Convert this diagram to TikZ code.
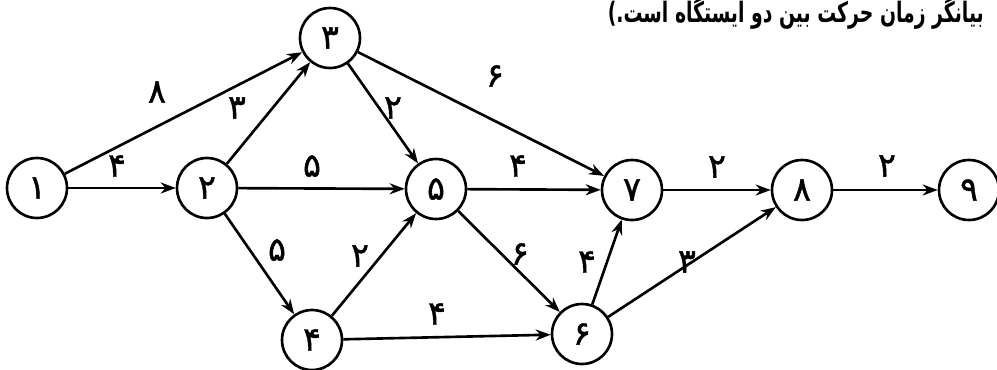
\documentclass[tikz,border=0pt]{standalone}
\usepackage{fontspec}
\usetikzlibrary{arrows.meta}
\TeXXeTstate=1
\newfontfamily\fa[Script=Arabic,FakeBold=1.2]{DejaVu Sans}
\newfontfamily\fanote[Script=Arabic,FakeStretch=0.67]{DejaVu Sans}

\begin{document}
\begin{tikzpicture}[x=0.02cm,y=-0.02cm,
        stn/.style={circle, draw, line width=1.5pt, minimum size=1.2cm, inner sep=0pt, font=\fa\fontsize{19}{19}\selectfont},
        link/.style={line width=1.5pt, -{Stealth[length=0.3cm,width=0.22cm]}},
        wt/.style={font=\fa\fontsize{19}{19}\selectfont}]
        \useasboundingbox (0,0) rectangle (997,369);
        \node[anchor=base east, font=\fanote\bfseries\fontsize{16}{16}\selectfont] (note) at (990,22) {\beginR بیانگر زمان حرکت بین دو ایستگاه است.)\endR};
        % stations
        \node[stn] (n1) at (37,188) {۱};
        \node[stn] (n2) at (207,188) {۲};
        \node[stn] (n3) at (330,38) {۳};
        \node[stn] (n4) at (312,340) {۴};
        \node[stn] (n5) at (436,189) {۵};
        \node[stn] (n6) at (582,334) {۶};
        \node[stn] (n7) at (632,190) {۷};
        \node[stn] (n8) at (802,190) {۸};
        \node[stn] (n9) at (969,190) {۹};
        % travel times
        \draw[link] (n1) -- (n2);
        \draw[link] (n1) -- (n3);
        \draw[link] (n2) -- (n3);
        \draw[link] (n2) -- (n5);
        \draw[link] (n2) -- (n4);
        \draw[link] (n3) -- (n5);
        \draw[link] (n3) -- (n7);
        \draw[link] (n4) -- (n5);
        \draw[link] (n4) -- (n6);
        \draw[link] (n5) -- (n7);
        \draw[link] (n5) -- (n6);
        \draw[link] (n6) -- (n7);
        \draw[link] (n6) -- (n8);
        \draw[link] (n7) -- (n8);
        \draw[link] (n8) -- (n9);
        \node[wt] (w12) at (117,166) {۴};
        \node[wt] (w13) at (157,92) {۸};
        \node[wt] (w23) at (237,108) {۳};
        \node[wt] (w25) at (312,166) {۵};
        \node[wt] (w24) at (277,250) {۵};
        \node[wt] (w35) at (393,108) {۲};
        \node[wt] (w37) at (495,76) {۶};
        \node[wt] (w45) at (360,256) {۲};
        \node[wt] (w46) at (437,314) {۴};
        \node[wt] (w57) at (518,166) {۴};
        \node[wt] (w56) at (520,254) {۶};
        \node[wt] (w67) at (587,262) {۴};
        \node[wt] (w68) at (687,262) {۳};
        \node[wt] (w78) at (717,167) {۲};
        \node[wt] (w89) at (887,166) {۲};
      \end{tikzpicture}
\end{document}
